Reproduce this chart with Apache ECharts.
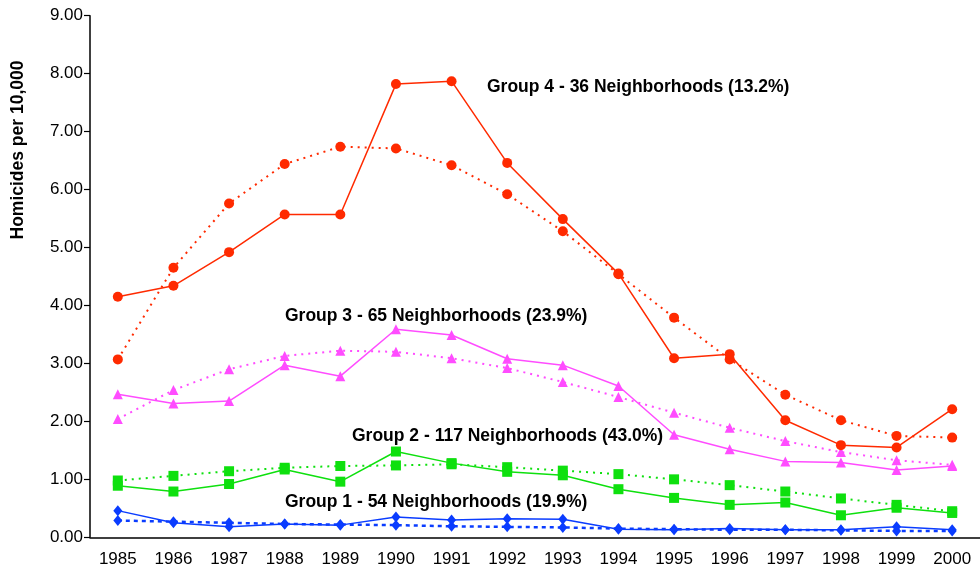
<!DOCTYPE html>
<html>
<head>
<meta charset="utf-8">
<title>Homicides per 10,000 by neighborhood group</title>
<script src="https://cdn.jsdelivr.net/npm/echarts@6/dist/echarts.min.js"></script>
<style>
  html, body { margin: 0; padding: 0; background: #fff; }
  #chart { width: 980px; height: 571px; }
</style>
</head>
<body>
<div id="chart"></div>
<script>
// years on the x axis
var years = ['1985', '1986', '1987', '1988', '1989', '1990', '1991', '1992',
             '1993', '1994', '1995', '1996', '1997', '1998', '1999', '2000'];

// observed (solid) and fitted (dotted) rates per group
var g4Obs = [4.15, 4.34, 4.92, 5.57, 5.57, 7.82, 7.87, 6.46, 5.49, 4.55, 3.09, 3.16, 2.02, 1.59, 1.55, 2.21];
var g4Fit = [3.07, 4.65, 5.76, 6.44, 6.74, 6.71, 6.42, 5.92, 5.28, 4.54, 3.79, 3.07, 2.46, 2.02, 1.75, 1.72];
var g3Obs = [2.47, 2.31, 2.35, 2.97, 2.78, 3.59, 3.49, 3.08, 2.97, 2.61, 1.77, 1.52, 1.31, 1.29, 1.16, 1.23];
var g3Fit = [2.04, 2.54, 2.90, 3.13, 3.22, 3.20, 3.09, 2.92, 2.68, 2.42, 2.15, 1.89, 1.66, 1.47, 1.33, 1.25];
var g2Obs = [0.89, 0.79, 0.92, 1.17, 0.96, 1.48, 1.28, 1.13, 1.07, 0.83, 0.68, 0.56, 0.60, 0.38, 0.51, 0.42];
var g2Fit = [0.98, 1.06, 1.14, 1.20, 1.23, 1.24, 1.26, 1.21, 1.15, 1.09, 1.00, 0.90, 0.79, 0.67, 0.56, 0.45];
var g1Obs = [0.46, 0.25, 0.18, 0.23, 0.21, 0.35, 0.30, 0.32, 0.31, 0.14, 0.13, 0.15, 0.13, 0.13, 0.18, 0.13];
var g1Fit = [0.29, 0.27, 0.25, 0.23, 0.22, 0.21, 0.19, 0.18, 0.17, 0.15, 0.14, 0.13, 0.13, 0.12, 0.11, 0.11];

var groupLabels = [
  'Group 4 - 36 Neighborhoods (13.2%)',
  'Group 3 - 65 Neighborhoods (23.9%)',
  'Group 2 - 117 Neighborhoods (43.0%)',
  'Group 1 - 54 Neighborhoods (19.9%)'
];

var FONT = "'Liberation Sans', Arial, sans-serif";
var RED = '#ff2a00', PINK = '#ff4cff', GREEN = '#0ee00e', BLUE = '#0a3cff';

function obsLine(name, data, color, symbol, size) {
  return {
    name: name, type: 'line', data: data,
    symbol: symbol, symbolSize: size,
    itemStyle: { color: color },
    lineStyle: { color: color, width: 1.5 },
    z: 3
  };
}
function fitLine(name, data, color, symbol, size, dash, width) {
  return {
    name: name, type: 'line', data: data,
    symbol: symbol, symbolSize: size,
    itemStyle: { color: color },
    lineStyle: { color: color, width: width, type: dash },
    z: 2
  };
}

var myChart = echarts.init(document.getElementById('chart'));
var option = {
  animation: false,
  backgroundColor: '#fff',
  grid: { left: 90, top: 15.7, height: 521.6, width: 899 },
  xAxis: {
    type: 'category',
    data: years,
    boundaryGap: true,
    axisLine: { lineStyle: { color: '#000', width: 1.5 } },
    axisTick: { length: 6, lineStyle: { color: '#000', width: 1.2 } },
    axisLabel: { color: '#000', fontFamily: FONT, fontSize: 17, margin: 14, interval: 0 }
  },
  yAxis: {
    type: 'value',
    min: 0, max: 9, interval: 1,
    axisLine: { show: true, lineStyle: { color: '#000', width: 1.5 } },
    axisTick: { show: true, length: 6, lineStyle: { color: '#000', width: 1.2 } },
    splitLine: { show: false },
    axisLabel: {
      color: '#000', fontFamily: FONT, fontSize: 17, margin: 7,
      formatter: function (v) { return v.toFixed(2); }
    }
  },
  graphic: [
    { type: 'text', x: 18.5, y: 150, rotation: Math.PI / 2,
      style: { text: 'Homicides per 10,000', font: 'bold 17.5px ' + FONT, fill: '#000',
               align: 'center', verticalAlign: 'middle' } },
    { type: 'text', x: 487, y: 87,
      style: { text: groupLabels[0], font: 'bold 17.5px ' + FONT, fill: '#000', verticalAlign: 'middle' } },
    { type: 'text', x: 285, y: 316,
      style: { text: groupLabels[1], font: 'bold 17.5px ' + FONT, fill: '#000', verticalAlign: 'middle' } },
    { type: 'text', x: 352, y: 436,
      style: { text: groupLabels[2], font: 'bold 17.5px ' + FONT, fill: '#000', verticalAlign: 'middle' } },
    { type: 'text', x: 285, y: 502,
      style: { text: groupLabels[3], font: 'bold 17.5px ' + FONT, fill: '#000', verticalAlign: 'middle' } }
  ],
  series: [
    fitLine('Group 4 fitted', g4Fit, RED, 'circle', 10, [2, 5], 2),
    obsLine('Group 4 observed', g4Obs, RED, 'circle', 10),
    fitLine('Group 3 fitted', g3Fit, PINK, 'triangle', 10, [2, 5], 2),
    obsLine('Group 3 observed', g3Obs, PINK, 'triangle', 10),
    fitLine('Group 2 fitted', g2Fit, GREEN, 'rect', 10, [2, 5], 2),
    obsLine('Group 2 observed', g2Obs, GREEN, 'rect', 10),
    fitLine('Group 1 fitted', g1Fit, BLUE, 'diamond', [9, 11], [4, 4], 2.5),
    obsLine('Group 1 observed', g1Obs, BLUE, 'diamond', [9, 11])
  ]
};
myChart.setOption(option);
</script>
</body>
</html>
